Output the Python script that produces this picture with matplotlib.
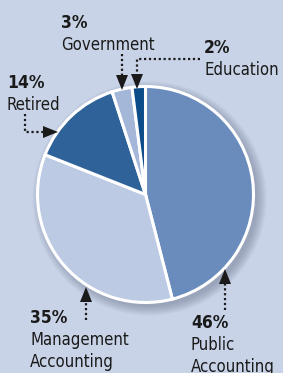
import matplotlib.pyplot as plt
from matplotlib.patches import Circle, Polygon

# share of members by employment area
labels = ["Public\nAccounting", "Management\nAccounting", "Retired", "Government", "Education"]
percents = [46, 35, 14, 3, 2]
colors = ["#6a8cbd", "#bccae3", "#2f6299", "#a5b7d8", "#0b4c89"]

BG = "#c9d3e7"
INK = "#1a1a1a"
H = 373  # figure height in px, texts below are placed by pixel rows from the top

fig = plt.figure(figsize=(2.83, 3.73), dpi=100)
fig.patch.set_facecolor(BG)
ax = fig.add_axes([0, 0, 1, 1])
ax.set_facecolor(BG)

cx, cy, r = 145.5, H - 194.5, 108

# soft drop shadow on the lower right
for i in range(10):
    ax.add_patch(Circle((cx + 4, cy - 4), r + 9 - i, color="#3a4560",
                        alpha=0.035, lw=0, zorder=1))

ax.pie(percents, startangle=90, counterclock=False, colors=colors,
       center=(cx, cy), radius=r,
       wedgeprops=dict(edgecolor="white", linewidth=2.2, zorder=2))

ax.set_xlim(0, 283)
ax.set_ylim(0, H)
ax.set_aspect("equal")
ax.axis("off")


def label(x, y_pct, pct, name, gap=22):
    ax.text(x, H - y_pct, f"{pct}%", fontsize=12.5, fontweight="bold",
            family="DejaVu Sans", fontstretch="condensed", color=INK,
            va="baseline", ha="left")
    for k, line in enumerate(name.split("\n")):
        ax.text(x, H - y_pct - gap * (k + 1), line, fontsize=12,
                family="DejaVu Sans", fontstretch="condensed", color=INK,
                va="baseline", ha="left")


def pointer(path, tip, direction):
    xs = [p[0] for p in path]
    ys = [H - p[1] for p in path]
    ax.plot(xs, ys, color=INK, lw=1.6, ls=(0, (1, 1.2)), zorder=5)
    tx, ty = tip[0], H - tip[1]
    dx, dy = direction
    L, W = 15, 6
    base = (tx - dx * L, ty - dy * L)
    px, py = -dy, dx
    tri = [(tx, ty), (base[0] + px * W, base[1] + py * W),
           (base[0] - px * W, base[1] - py * W)]
    ax.add_patch(Polygon(tri, closed=True, color=INK, lw=0, zorder=6))


label(61, 28, 3, labels[3])
label(204, 53, 2, labels[4])
label(7, 88, 14, labels[2])
label(30, 323, 35, labels[1])
label(191, 328, 46, labels[0])

pointer([(122, 54), (122, 76)], (122, 90), (0, -1))
pointer([(200, 59), (137, 59), (137, 76)], (137, 89), (0, -1))
pointer([(25, 114), (25, 132), (44, 132)], (58, 132), (1, 0))
pointer([(86, 320), (86, 300)], (86, 287), (0, 1))
pointer([(225, 310), (225, 284)], (225, 269), (0, 1))

fig.savefig("out.png", dpi=100, facecolor=BG)
